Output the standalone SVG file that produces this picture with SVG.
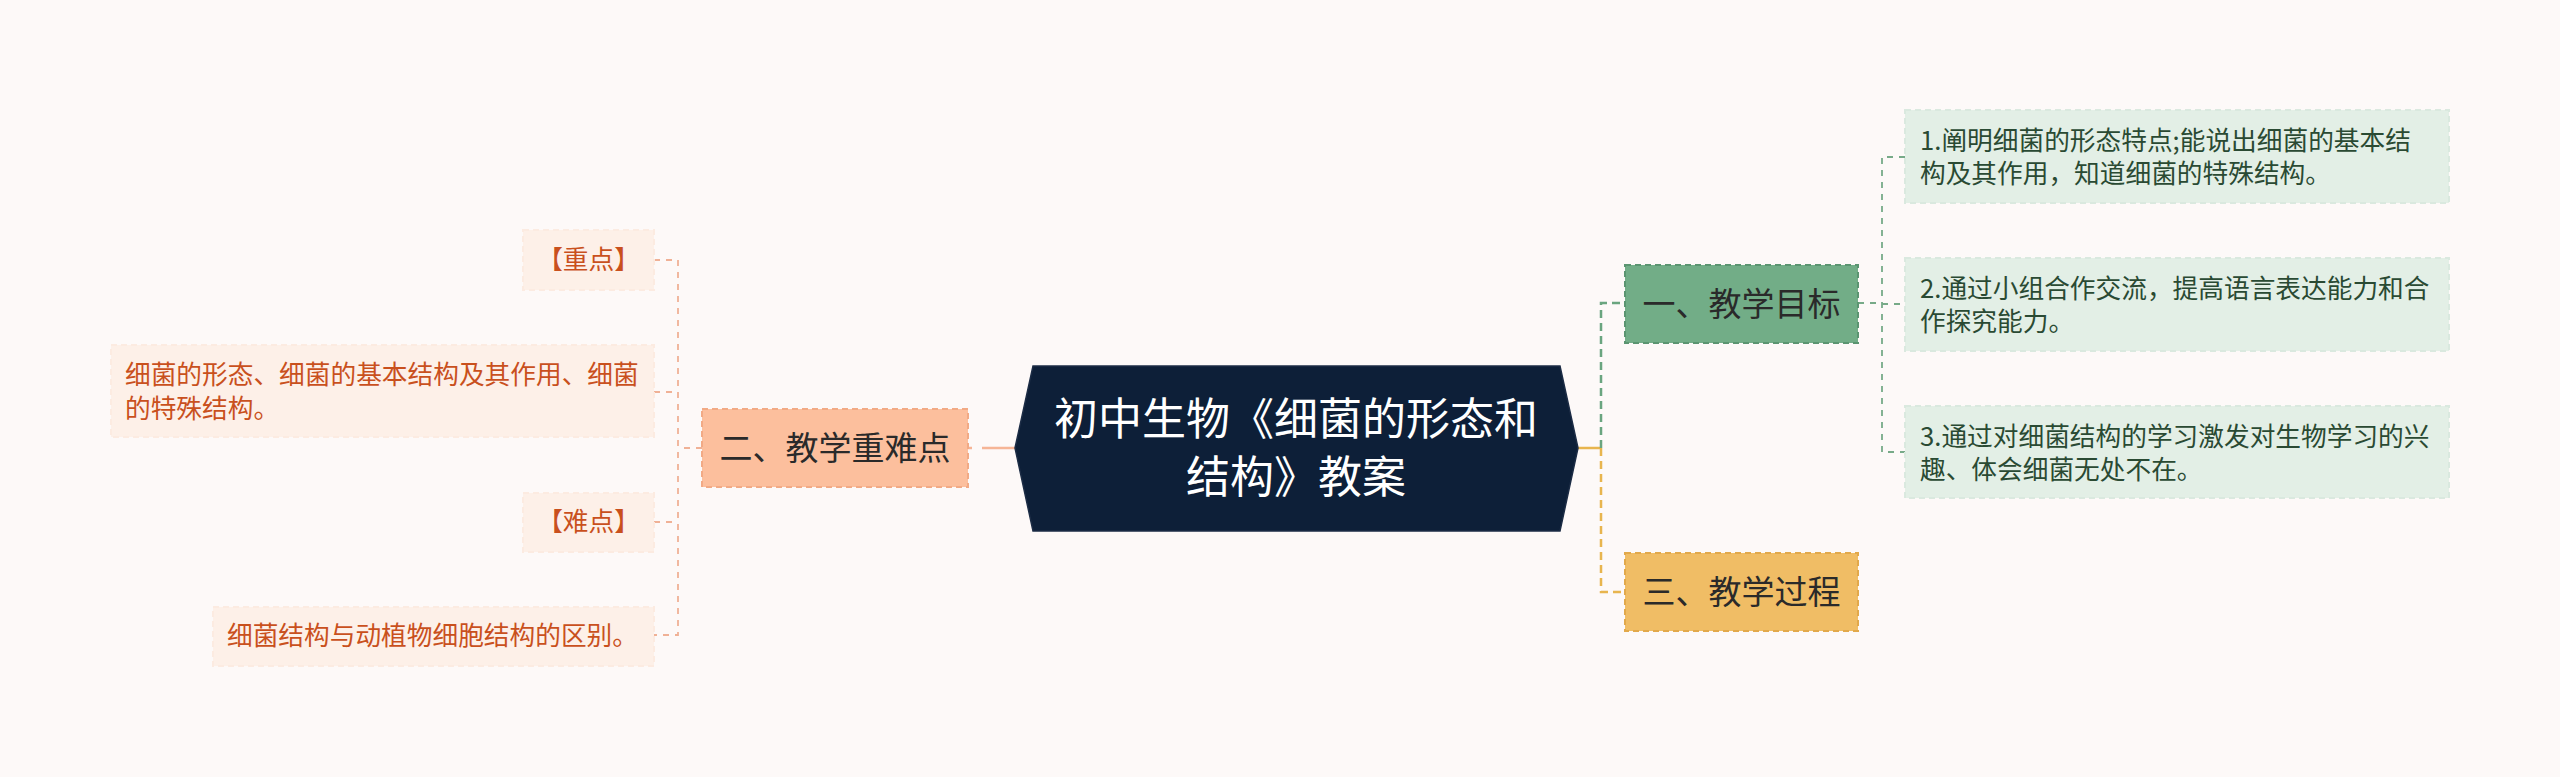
<svg xmlns="http://www.w3.org/2000/svg" width="2560" height="777" viewBox="0 0 2560 777">
<style>
text{font-family:"Noto Sans CJK SC","Noto Sans",sans-serif}
.root{fill:#0d1f38;stroke:#1c2c45;stroke-width:1.5}
.rootT{fill:#ffffff;font-size:44px;text-anchor:middle}
.l1T{fill:#2a2a2a;font-size:33px;text-anchor:middle}
.g1{fill:#72ad87;stroke:#5b9571;stroke-width:2;stroke-dasharray:6 4}
.o1{fill:#f0bd65;stroke:#e2a94b;stroke-width:2;stroke-dasharray:6 4}
.p1{fill:#fcbf9d;stroke:#f2aa85;stroke-width:2;stroke-dasharray:6 4}
.gl{fill:#e3efe6;stroke:#dae9df;stroke-width:2;stroke-dasharray:6 4}
.glT{fill:#2a4a33;font-size:25.7px}
.pl{fill:#fdf0e8;stroke:#fcebe1;stroke-width:2;stroke-dasharray:6 4}
.plT{fill:#c9501d;font-size:25.7px}
.c{fill:none}
</style>
<rect width="2560" height="777" fill="#fdf9f8"/>
<g id="connectors">
  <path class="c" d="M1578 448 H1601" stroke="#e8b54e" stroke-width="2.5"/>
  <path class="c" d="M1601 448 V303 H1625" stroke="#6aa57f" stroke-width="2.5" stroke-dasharray="8 5"/>
  <path class="c" d="M1601 448 V592 H1625" stroke="#e8b54e" stroke-width="2.5" stroke-dasharray="8 5"/>
  <path class="c" d="M968 448 H1015" stroke="#f6b596" stroke-width="2.5" stroke-dasharray="4 10 100"/>
  <path class="c" d="M1858 303 H1882" stroke="#77aa88" stroke-width="1.8" stroke-dasharray="6 6"/>
  <path class="c" d="M1905 157 H1882 V452 H1905 M1882 304 H1905" stroke="#77aa88" stroke-width="1.8" stroke-dasharray="6 6"/>
  <path class="c" d="M702 448 H678" stroke="#f0b196" stroke-width="1.8" stroke-dasharray="6 6"/>
  <path class="c" d="M654 260 H678 V635 H654 M654 392 H678 M654 522 H678" stroke="#f0b196" stroke-width="1.8" stroke-dasharray="6 6"/>
</g>
<g id="root">
  <polygon class="root" points="1015,448 1033,366 1560,366 1578,448 1560,531 1033,531"/>
  <text class="rootT" x="1296" y="435">初中生物《细菌的形态和</text>
  <text class="rootT" x="1296" y="493">结构》教案</text>
</g>
<g id="n1">
  <rect class="g1" x="1625" y="265" width="233" height="78"/>
  <text class="l1T" x="1741.5" y="316">一、教学目标</text>
</g>
<g id="n3">
  <rect class="o1" x="1625" y="553" width="233" height="78"/>
  <text class="l1T" x="1741.5" y="604">三、教学过程</text>
</g>
<g id="n2">
  <rect class="p1" x="702" y="409" width="266" height="78"/>
  <text class="l1T" x="835" y="460">二、教学重难点</text>
</g>
<g id="g1">
  <rect class="gl" x="1905" y="110" width="544" height="93"/>
  <text class="glT" x="1920" y="150">1.阐明细菌的形态特点;能说出细菌的基本结</text>
  <text class="glT" x="1920" y="183">构及其作用，知道细菌的特殊结构。</text>
</g>
<g id="g2">
  <rect class="gl" x="1905" y="258" width="544" height="93"/>
  <text class="glT" x="1920" y="298">2.通过小组合作交流，提高语言表达能力和合</text>
  <text class="glT" x="1920" y="331">作探究能力。</text>
</g>
<g id="g3">
  <rect class="gl" x="1905" y="406" width="544" height="92"/>
  <text class="glT" x="1920" y="446">3.通过对细菌结构的学习激发对生物学习的兴</text>
  <text class="glT" x="1920" y="479">趣、体会细菌无处不在。</text>
</g>
<g id="p1">
  <rect class="pl" x="523" y="230" width="131" height="60"/>
  <text class="plT" x="588.5" y="269" text-anchor="middle">【重点】</text>
</g>
<g id="p2">
  <rect class="pl" x="111" y="345" width="543" height="92"/>
  <text class="plT" x="125" y="384">细菌的形态、细菌的基本结构及其作用、细菌</text>
  <text class="plT" x="125" y="418">的特殊结构。</text>
</g>
<g id="p3">
  <rect class="pl" x="523" y="493" width="131" height="59"/>
  <text class="plT" x="588.5" y="531" text-anchor="middle">【难点】</text>
</g>
<g id="p4">
  <rect class="pl" x="213" y="607" width="441" height="59"/>
  <text class="plT" x="227" y="645">细菌结构与动植物细胞结构的区别。</text>
</g>
</svg>
